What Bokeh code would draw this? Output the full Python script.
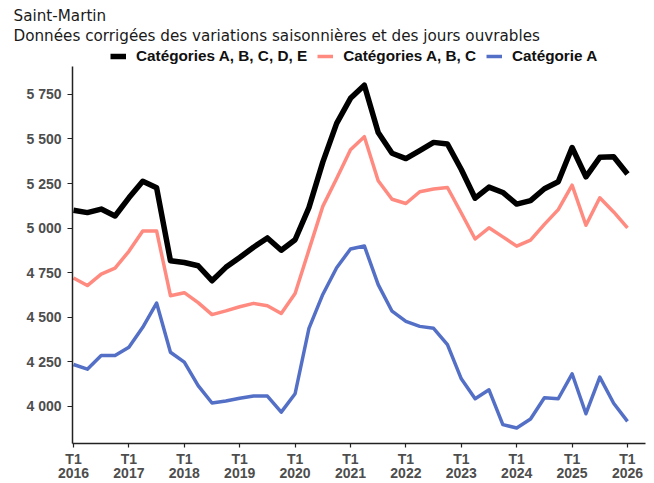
from bokeh.plotting import figure
from bokeh.models import ColumnDataSource, Legend, LegendItem, Title, FixedTicker, Range1d
from bokeh.embed import file_html
from bokeh.resources import INLINE

years = list(range(2016, 2027))
tick_labels = ["T1\n%d" % y for y in years]

# Quarterly series, T1 2016 .. T1 2026
cat_abcde = [5100, 5087, 5107, 5068, 5170, 5263, 5226, 4817, 4807, 4789, 4705, 4780,
             4835, 4893, 4945, 4876, 4935, 5115, 5370, 5588, 5728, 5802, 5536, 5420,
             5390, 5435, 5481, 5472, 5329, 5168, 5230, 5200, 5135, 5154, 5221, 5260,
             5452, 5288, 5397, 5400, 5304]
cat_abc = [4720, 4678, 4742, 4776, 4870, 4984, 4984, 4621, 4638, 4582, 4515, 4536,
           4559, 4578, 4565, 4521, 4633, 4878, 5122, 5278, 5440, 5513, 5266, 5162,
           5138, 5204, 5219, 5228, 5085, 4939, 5002, 4951, 4899, 4933, 5021, 5104,
           5241, 5016, 5170, 5091, 5002]
cat_a = [4235, 4209, 4285, 4285, 4332, 4444, 4580, 4304, 4248, 4117, 4019, 4030,
         4046, 4058, 4058, 3968, 4071, 4438, 4628, 4778, 4883, 4900, 4683, 4534,
         4477, 4449, 4438, 4347, 4155, 4043, 4093, 3898, 3879, 3929, 4049, 4043,
         4183, 3959, 4164, 4018, 3916]
y_ticks = [4000, 4250, 4500, 4750, 5000, 5250, 5500, 5750]

x = list(range(len(cat_a)))
src = ColumnDataSource(dict(x=x, abcde=cat_abcde, abc=cat_abc, a=cat_a))

Y0, Y1 = 3792, 6030
p = figure(width=654, height=483, output_backend="svg", toolbar_location=None,
           title=None, x_range=Range1d(-0.072, 41.3), y_range=Range1d(Y0, Y1),
           min_border_left=72, min_border_right=9, min_border_bottom=38, min_border_top=44)
p.outline_line_color = None
p.xgrid.visible = False
p.ygrid.visible = False
p.background_fill_color = "white"
p.border_fill_color = "white"

r_a = p.line("x", "a", source=src, line_color="#5470C6", line_width=3.5, line_join="round")
r_abc = p.line("x", "abc", source=src, line_color="#FF8A80", line_width=3.5, line_join="round")
r_abcde = p.line("x", "abcde", source=src, line_color="#000000", line_width=5.5, line_join="round")

# axes
p.xaxis.ticker = FixedTicker(ticks=[4 * i for i in range(len(years))])
p.xaxis.major_label_overrides = {4 * i: lab for i, lab in enumerate(tick_labels)}
p.yaxis.ticker = FixedTicker(ticks=y_ticks)
p.yaxis.major_label_overrides = {v: "{:,}".format(v).replace(",", " ") for v in y_ticks}
p.yaxis.bounds = (Y0, 5907)
for ax in (p.xaxis[0], p.yaxis[0]):
    ax.axis_line_color = "#222222"
    ax.axis_line_width = 1.5
    ax.major_tick_line_color = "#222222"
    ax.major_tick_line_width = 1.2
    ax.major_tick_in = 0
    ax.minor_tick_line_color = None
    ax.major_label_text_font = "Liberation Sans"
    ax.major_label_text_font_style = "bold"
    ax.major_label_text_font_size = "14px"
    ax.major_label_text_color = "#4d4d4d"
p.xaxis.major_label_text_line_height = 0.88
p.xaxis.major_tick_out = 4
p.xaxis.major_label_standoff = 3
p.yaxis.major_tick_out = 5
p.yaxis.major_label_standoff = 6

legend = Legend(items=[LegendItem(label="Catégories A, B, C, D, E", renderers=[r_abcde]),
                       LegendItem(label="Catégories A, B, C", renderers=[r_abc]),
                       LegendItem(label="Catégorie A", renderers=[r_a])],
                orientation="horizontal", location=(38, 378),
                label_text_font="Liberation Sans", label_text_font_style="bold",
                label_text_font_size="15.3px", label_text_color="#111111",
                glyph_width=16, glyph_height=14, label_standoff=10, spacing=10,
                padding=0, margin=0, border_line_color=None, background_fill_alpha=0)
p.add_layout(legend, "center")
p.add_layout(Title(text="Données corrigées des variations saisonnières et des jours ouvrables",
                   text_font="DejaVu Sans", text_font_size="15.2px", text_font_style="normal",
                   text_color="#1a1a1a", offset=-59, standoff=0, text_line_height=0.85), "above")
p.add_layout(Title(text="Saint-Martin", text_font="DejaVu Sans", text_font_size="15.2px",
                   text_font_style="normal", text_color="#1a1a1a", offset=-59, standoff=0,
                   text_line_height=0.85), "above")

open("out.html", "w").write(file_html(p, INLINE))
